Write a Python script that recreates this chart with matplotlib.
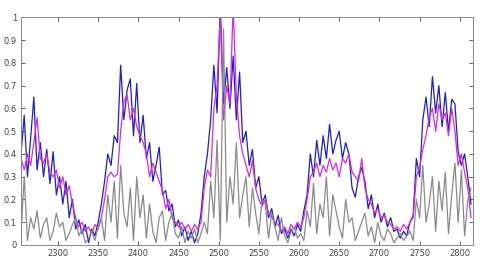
import numpy as np
import matplotlib
matplotlib.use('Agg')
from matplotlib import pyplot as plt

# sample grid (wavenumber-ish axis), one value every 4 units
x = np.arange(2254, 2815, 4)

blue = [0.40, 0.57, 0.30, 0.47, 0.65, 0.33, 0.45, 0.30, 0.42, 0.27,
        0.41, 0.22, 0.30, 0.18, 0.28, 0.12, 0.20, 0.07, 0.11, 0.05,
        0.09, 0.01, 0.07, 0.04, 0.10, 0.18, 0.28, 0.40, 0.35, 0.48,
        0.45, 0.79, 0.55, 0.68, 0.73, 0.48, 0.71, 0.45, 0.57, 0.38,
        0.45, 0.28, 0.35, 0.43, 0.22, 0.24, 0.15, 0.18, 0.08, 0.11,
        0.04, 0.08, 0.02, 0.06, 0.01, 0.05, 0.14, 0.30, 0.40, 0.55,
        0.79, 0.58, 1.05, 0.62, 0.78, 0.60, 0.83, 0.55, 0.76, 0.45,
        0.50, 0.35, 0.42, 0.25, 0.30, 0.18, 0.22, 0.12, 0.16, 0.08,
        0.13, 0.05, 0.07, 0.03, 0.07, 0.04, 0.09, 0.06, 0.15, 0.22,
        0.40, 0.30, 0.46, 0.35, 0.48, 0.38, 0.53, 0.40, 0.46, 0.50,
        0.38, 0.45, 0.40, 0.25, 0.21, 0.30, 0.34, 0.28, 0.16, 0.22,
        0.12, 0.18, 0.10, 0.14, 0.08, 0.12, 0.06, 0.07, 0.03, 0.06,
        0.04, 0.10, 0.13, 0.38, 0.30, 0.55, 0.65, 0.52, 0.74, 0.58,
        0.70, 0.52, 0.67, 0.50, 0.64, 0.62, 0.41, 0.35, 0.40, 0.30,
        0.18]

magenta = [0.38, 0.33, 0.40, 0.35, 0.45, 0.56, 0.38, 0.36, 0.40, 0.32,
           0.30, 0.33, 0.25, 0.30, 0.22, 0.26, 0.18, 0.12, 0.08, 0.10,
           0.06, 0.08, 0.05, 0.09, 0.07, 0.12, 0.20, 0.30, 0.32, 0.30,
           0.31, 0.50, 0.63, 0.66, 0.55, 0.60, 0.52, 0.48, 0.45, 0.40,
           0.30, 0.36, 0.32, 0.28, 0.24, 0.16, 0.20, 0.12, 0.10, 0.08,
           0.10, 0.07, 0.09, 0.06, 0.09, 0.07, 0.10, 0.25, 0.33, 0.30,
           0.60, 0.70, 1.02, 0.55, 0.70, 0.62, 1.05, 0.65, 0.48, 0.40,
           0.35, 0.30, 0.37, 0.25, 0.20, 0.17, 0.20, 0.14, 0.12, 0.10,
           0.09, 0.06, 0.08, 0.05, 0.09, 0.07, 0.10, 0.08, 0.12, 0.20,
           0.30, 0.32, 0.36, 0.30, 0.35, 0.32, 0.38, 0.33, 0.36, 0.30,
           0.38, 0.36, 0.40, 0.32, 0.30, 0.28, 0.38, 0.25, 0.20, 0.18,
           0.14, 0.16, 0.12, 0.13, 0.10, 0.09, 0.07, 0.08, 0.06, 0.09,
           0.07, 0.10, 0.12, 0.30, 0.34, 0.42, 0.48, 0.56, 0.60, 0.50,
           0.62, 0.55, 0.58, 0.48, 0.60, 0.50, 0.35, 0.40, 0.32, 0.25,
           0.12]

gray = [0.05, 0.30, 0.02, 0.12, 0.07, 0.15, 0.03, 0.09, 0.12, 0.02,
        0.06, 0.14, 0.08, 0.10, 0.02, 0.05, 0.09, 0.12, 0.04, 0.07,
        0.01, 0.03, 0.06, 0.02, 0.08, 0.12, 0.02, 0.22, 0.10, 0.28,
        0.03, 0.35, 0.14, 0.08, 0.25, 0.02, 0.30, 0.12, 0.22, 0.03,
        0.18, 0.06, 0.01, 0.12, 0.15, 0.02, 0.10, 0.14, 0.05, 0.03,
        0.08, 0.01, 0.06, 0.03, 0.07, 0.01, 0.05, 0.10, 0.05, 0.28,
        0.12, 0.46, 0.02, 0.95, 0.10, 0.30, 0.18, 0.45, 0.12, 0.22,
        0.30, 0.08, 0.25, 0.14, 0.05, 0.20, 0.18, 0.03, 0.14, 0.08,
        0.02, 0.12, 0.04, 0.01, 0.06, 0.08, 0.03, 0.05, 0.02, 0.15,
        0.08, 0.27, 0.05, 0.18, 0.12, 0.30, 0.04, 0.22, 0.15, 0.08,
        0.03, 0.20, 0.10, 0.12, 0.02, 0.06, 0.10, 0.14, 0.04, 0.08,
        0.01, 0.10, 0.04, 0.02, 0.07, 0.05, 0.01, 0.03, 0.05, 0.02,
        0.04, 0.06, 0.02, 0.20, 0.12, 0.35, 0.10, 0.18, 0.30, 0.06,
        0.28, 0.15, 0.32, 0.05, 0.22, 0.36, 0.10, 0.33, 0.04, 0.20,
        0.25]

xticks = [2300, 2350, 2400, 2450, 2500, 2550, 2600, 2650, 2700, 2750, 2800]
yticks = [0, 0.1, 0.2, 0.3, 0.4, 0.5, 0.6, 0.7, 0.8, 0.9, 1]

fig = plt.figure(figsize=(4.83, 2.64), dpi=100)
ax = fig.add_axes([0.0435, 0.072, 0.935, 0.862])

ax.plot(x, blue, color='#1c1cd2', lw=0.9)
ax.plot(x, magenta, color='#dc28dc', lw=0.9)
ax.plot(x, gray, color='#8a8a8a', lw=0.9)

ax.set_xlim(2254, 2816)
ax.set_ylim(0, 1)
ax.set_xticks(xticks)
ax.set_yticks(yticks)
ax.set_yticklabels(['%g' % t for t in yticks])
ax.tick_params(direction='in', top=True, right=True, length=3, width=0.6,
               labelsize=6, colors='#444444', pad=3)
for s in ax.spines.values():
    s.set_color('#888888')
    s.set_linewidth(0.7)

fig.savefig('out.png', dpi=100)
